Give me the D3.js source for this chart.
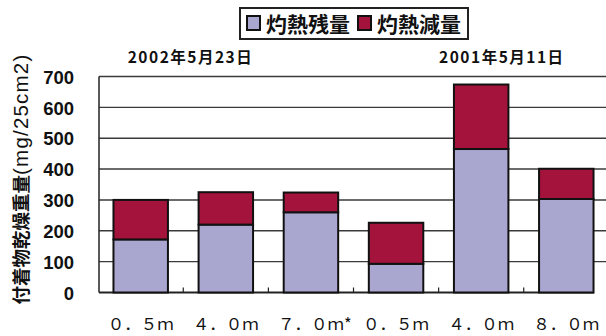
<!DOCTYPE html>
<html>
<head>
<meta charset="utf-8">
<script src="https://cdn.jsdelivr.net/npm/d3@7"></script>
<style>
  body { margin: 0; background: #fff; }
  svg { display: block; }
</style>
</head>
<body>
<svg id="chart" width="606" height="336"></svg>
<script>
// categories (two surveys, three depths each)
var depthLabels = ["０．５ｍ", "４．０ｍ", "７．０ｍ*", "０．５ｍ", "４．０ｍ", "８．０ｍ"];
var residual = [172, 220, 260, 93, 465, 303];   // 灼熱残量
var loss = [128, 105, 64, 133, 209, 98];        // 灼熱減量
var seriesNames = ["灼熱残量", "灼熱減量"];
var seriesColors = ["#a9a6cf", "#a3133c"];
var dateLabels = ["2002年5月23日", "2001年5月11日"];
var yTicks = [0, 100, 200, 300, 400, 500, 600, 700];
var yTitleJa = "付着物乾燥重量";
var yTitleUnit = "(mg/25cm2)";

var svg = d3.select("#chart");
var plotLeft = 99, plotRight = 608, plotTop = 76.5, plotBottom = 292.5;

var idx = d3.range(depthLabels.length);
var x = d3.scaleBand()
    .domain(idx)
    .range([plotLeft, plotRight])
    .paddingInner(0.36)
    .paddingOuter(0.17);

var y = d3.scaleLinear()
    .domain([0, 700])
    .range([plotBottom, plotTop]);

// gridlines
svg.append("g")
    .selectAll("line")
    .data(yTicks.slice(1))
    .enter().append("line")
    .attr("x1", plotLeft)
    .attr("x2", 606)
    .attr("y1", function (d) { return y(d); })
    .attr("y2", function (d) { return y(d); })
    .attr("stroke", "#3a3a3a")
    .attr("stroke-width", 1.4);

// y axis labels
var yAxis = svg.append("g")
    .attr("transform", "translate(" + plotLeft + ",0)")
    .call(d3.axisLeft(y).tickValues(yTicks).tickSize(0).tickPadding(25));
yAxis.select(".domain").remove();
yAxis.selectAll("text")
    .attr("font-family", "'Liberation Sans', Arial, sans-serif")
    .attr("font-weight", "bold")
    .attr("font-size", 18.5)
    .attr("fill", "#111")
    .attr("dy", "0.36em");

// axis lines
svg.append("line")
    .attr("x1", plotLeft).attr("x2", plotLeft)
    .attr("y1", y(700)).attr("y2", plotBottom)
    .attr("stroke", "#222").attr("stroke-width", 1.5);
svg.append("line")
    .attr("x1", plotLeft).attr("x2", 594)
    .attr("y1", plotBottom).attr("y2", plotBottom)
    .attr("stroke", "#222").attr("stroke-width", 2);

// small ticks between categories
svg.append("g")
    .selectAll("line")
    .data(idx.slice(1))
    .enter().append("line")
    .attr("x1", function (d) { return x(d) - x.step() * x.paddingInner() / 2; })
    .attr("x2", function (d) { return x(d) - x.step() * x.paddingInner() / 2; })
    .attr("y1", plotBottom)
    .attr("y2", plotBottom - 5)
    .attr("stroke", "#222")
    .attr("stroke-width", 1.2);

// stacked bars
var stackData = idx.map(function (i) { return { i: i, residual: residual[i], loss: loss[i] }; });
var series = d3.stack().keys(["residual", "loss"])(stackData);

svg.append("g")
    .selectAll("g")
    .data(series)
    .enter().append("g")
    .attr("fill", function (d, k) { return seriesColors[k]; })
    .selectAll("rect")
    .data(function (d) { return d; })
    .enter().append("rect")
    .attr("x", function (d) { return x(d.data.i); })
    .attr("y", function (d) { return y(d[1]); })
    .attr("width", x.bandwidth())
    .attr("height", function (d) { return y(d[0]) - y(d[1]); })
    .attr("stroke", "#111")
    .attr("stroke-width", 2);

// x labels
svg.append("g")
    .selectAll("text")
    .data(idx)
    .enter().append("text")
    .attr("x", function (d) { return x(d) + x.bandwidth() / 2 + (d === 2 ? 4 : 0); })
    .attr("y", 330)
    .attr("text-anchor", "middle")
    .attr("font-family", "'Noto Sans CJK JP', sans-serif")
    .attr("font-size", 16.5)
    .attr("fill", "#111")
    .text(function (d) { return depthLabels[d]; });

// date labels over each group
var dateOffset = [77, 133];
svg.append("g")
    .selectAll("text")
    .data(dateLabels)
    .enter().append("text")
    .attr("x", function (d, k) { return x(k * 3) + dateOffset[k]; })
    .attr("y", 63)
    .attr("text-anchor", "middle")
    .attr("font-family", "'Noto Sans CJK JP', sans-serif")
    .attr("font-weight", "bold")
    .attr("font-size", 15.5)
    .attr("letter-spacing", 1.5)
    .attr("fill", "#111")
    .text(function (d) { return d; });

// y title
var title = svg.append("text")
    .attr("transform", "translate(28,179) rotate(-90)")
    .attr("text-anchor", "middle")
    .attr("fill", "#111");
title.append("tspan")
    .attr("font-family", "'Noto Sans CJK JP', sans-serif")
    .attr("font-weight", "bold")
    .attr("font-size", 18.5)
    .text(yTitleJa);
title.append("tspan")
    .attr("font-family", "'Liberation Sans', Arial, sans-serif")
    .attr("font-size", 20.5)
    .attr("letter-spacing", 1.2)
    .text(yTitleUnit);

// legend
var legend = svg.append("g");
legend.append("rect")
    .attr("x", 240).attr("y", 8)
    .attr("width", 228).attr("height", 31)
    .attr("fill", "#fff")
    .attr("stroke", "#222")
    .attr("stroke-width", 2);
var legendX = [247, 358];
seriesNames.forEach(function (name, k) {
    legend.append("rect")
        .attr("x", legendX[k]).attr("y", 16)
        .attr("width", 13).attr("height", 14)
        .attr("fill", seriesColors[k])
        .attr("stroke", "#111")
        .attr("stroke-width", 2);
    legend.append("text")
        .attr("x", legendX[k] + 19)
        .attr("y", 32)
        .attr("font-family", "'Noto Sans CJK JP', sans-serif")
        .attr("font-weight", "bold")
        .attr("font-size", 21)
        .attr("fill", "#111")
        .text(name);
});
</script>
</body>
</html>
